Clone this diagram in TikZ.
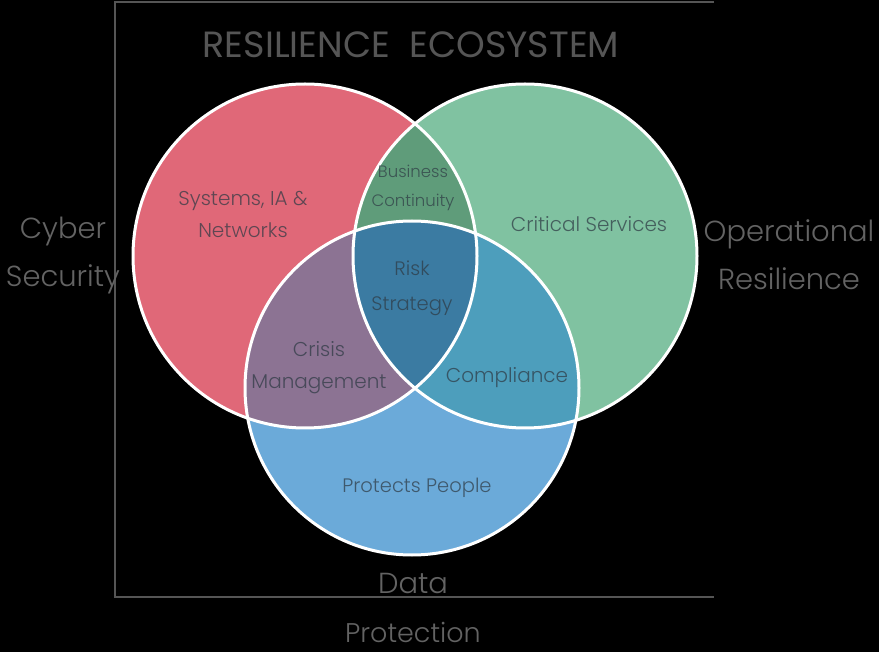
\documentclass[tikz,border=0pt]{standalone}
\usepackage{fontspec}
\setmainfont{Poppins Light}
\newfontfamily\titlefont{Poppins}
\definecolor{cred}{HTML}{E06878}
\definecolor{cgreen}{HTML}{80C2A1}
\definecolor{cblue}{HTML}{6BAAD9}
\definecolor{crg}{HTML}{5F9C7A}
\definecolor{crb}{HTML}{8C7393}
\definecolor{cgb}{HTML}{4D9EBC}
\definecolor{crgb}{HTML}{3B7BA2}
\definecolor{frame}{HTML}{555555}
\definecolor{outer}{HTML}{636363}
\definecolor{inner}{HTML}{2E3A44}
\tikzset{
  outerlbl/.style={text=outer, font=\fontsize{29}{48}\selectfont, align=center, inner sep=0pt},
  innerlbl/.style={text=inner, text opacity=0.72, align=center, inner sep=0pt, font=\fontsize{20}{32}\selectfont},
  smalllbl/.style={innerlbl, font=\fontsize{16.5}{29}\selectfont},
  ring/.style={draw=white, line width=3pt},
}
\begin{document}
\begin{tikzpicture}[x=1pt,y=-1pt]
\useasboundingbox[fill=black] (0,0) rectangle (879,652);
% frame
\coordinate (ftr) at (714,2);
\coordinate (ftl) at (115,2);
\coordinate (fbl) at (115,597);
\coordinate (fbr) at (714,597);
\draw[frame, line width=1.5pt] (ftr) -- (ftl) -- (fbl) -- (fbr);
% title
\node[text=frame, font=\titlefont\fontsize{36.5}{40}\selectfont, inner sep=0pt] (title) at (411,45) {RESILIENCE\ \ ECOSYSTEM};
% circles
\def\red{(305,256) circle (172pt)}
\def\green{(525,256) circle (172pt)}
\def\blue{(412,388) circle (167pt)}
\fill[cred] \red;
\fill[cgreen] \green;
\fill[cblue] \blue;
\begin{scope}\clip \red; \fill[crg] \green; \end{scope}
\begin{scope}\clip \red; \fill[crb] \blue; \end{scope}
\begin{scope}\clip \green; \fill[cgb] \blue; \end{scope}
\begin{scope}\clip \red; \clip \green; \fill[crgb] \blue; \end{scope}
\draw[ring] \red;
\draw[ring] \green;
\draw[ring] \blue;
% inner labels
\node[innerlbl] (sys) at (243,214) {Systems, IA \&\\Networks};
\node[innerlbl] (crit) at (589,224) {Critical Services};
\node[smalllbl] (bc) at (413,188) {Business\\Continuity};
\node[innerlbl, font=\fontsize{19.5}{35}\selectfont] (risk) at (412,288) {Risk\\Strategy};
\node[innerlbl] (crisis) at (319,368) {Crisis\\Management};
\node[innerlbl] (comp) at (507,378) {Compliance};
\node[innerlbl, font=\fontsize{19.5}{32}\selectfont] (pp) at (417,488) {Protects People};
% outer labels
\node[outerlbl] (cyber) at (63,255) {Cyber\\Security};
\node[outerlbl] (oper) at (789,255) {Operational\\Resilience};
\node[outerlbl] (data) at (413,583) {Data};
\node[outerlbl, font=\fontsize{27}{48}\selectfont] (prot) at (413,632) {Protection};
\end{tikzpicture}
\end{document}
